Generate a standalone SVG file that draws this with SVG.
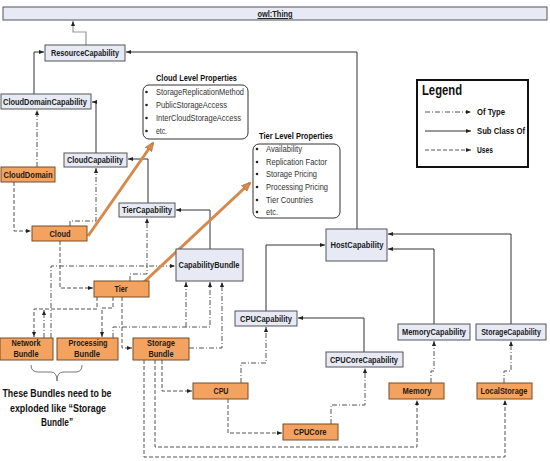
<svg xmlns="http://www.w3.org/2000/svg" width="550" height="461" viewBox="0 0 550 461">
<style>
.cap rect{fill:#e7eaf5;stroke:#555;stroke-width:1}
.ind rect{fill:#f3a35f;stroke:#7a4b22;stroke-width:1}
.lbl{font-family:"Liberation Sans Narrow","Liberation Sans",Arial,sans-serif;font-weight:bold;font-size:9.5px;fill:#1a1a1a;text-anchor:middle}
.prop{font-family:"Liberation Sans Narrow","Liberation Sans",Arial,sans-serif;font-size:9px;fill:#333}
.ptitle{font-family:"Liberation Sans Narrow","Liberation Sans",Arial,sans-serif;font-size:9.5px;font-weight:bold;fill:#111}
.note{font-family:"Liberation Sans Narrow","Liberation Sans",Arial,sans-serif;font-size:10.5px;font-weight:bold;fill:#111;text-anchor:middle}
.box{fill:#fff;stroke:#333;stroke-width:1}
.sub{fill:none;stroke:#333;stroke-width:1;marker-end:url(#ah)}
.typ{fill:none;stroke:#555;stroke-width:1;stroke-dasharray:5 2 1 2;marker-end:url(#ah)}
.use{fill:none;stroke:#555;stroke-width:1;stroke-dasharray:4 2;marker-end:url(#ah)}
.orn{fill:none;stroke:#d8884a;stroke-width:3;marker-end:url(#oah)}
</style>
<defs>
<marker id="ah" markerUnits="userSpaceOnUse" markerWidth="6" markerHeight="5" refX="5" refY="2" orient="auto"><path d="M0,0 L5,2 L0,4 z" fill="#222"/></marker>
<marker id="oah" markerUnits="userSpaceOnUse" markerWidth="10" markerHeight="8" refX="8" refY="4" orient="auto"><path d="M0,0 L9,4 L0,8 z" fill="#d8884a" stroke="#9a5c2c" stroke-width="0.5"/></marker>
</defs>

<g id="connectors">
<path d="M86,45 V32 H73 V21" fill="none" stroke="#999" stroke-width="1.2" marker-end="url(#ah)"/>
<path class="sub" d="M34,94 V52 H44"/>
<path class="sub" d="M357,229 V52 H126"/>
<path class="sub" d="M96,153 V102 H92"/>
<path class="sub" d="M148,203 V159 H128"/>
<path class="sub" d="M210,249 V210 H176"/>
<path class="sub" d="M266,311 V245 H325"/>
<path class="sub" d="M434,324 V249 H388"/>
<path class="sub" d="M511,324 V234 H388"/>
<path class="sub" d="M364,352 V318 H298"/>

<path class="typ" d="M37,167 V110"/>
<path class="typ" d="M70,226 V221 H96 V168"/>
<path class="typ" d="M130,281 V274 H147 V218"/>
<path class="typ" d="M51,338 V266 H175"/>
<path class="typ" d="M44,338 V310" marker-end="none"/>
<path class="typ" d="M113,338 V327 H210 V282"/>
<path class="typ" d="M186,327 V282"/>
<path class="typ" d="M189,348 H222 V282"/>
<path class="typ" d="M241,383 V363 H266 V327"/>
<path class="typ" d="M331,424 V405 H365 V368"/>
<path class="typ" d="M431,383 V371 H434 V341"/>
<path class="typ" d="M504,383 V371 H511 V341"/>

<path class="use" d="M14,182 V231 H31"/>
<path class="use" d="M60,241 V288 H93"/>
<path class="use" d="M97,297 V309 H34 V337"/>
<path class="use" d="M113,297 V308 H102 V337"/>
<path class="use" d="M122,297 V348 H132"/>
<path class="use" d="M162,360 V391 H192"/>
<path class="use" d="M228,399 V433 H282"/>
<path class="use" d="M155,360 V447 H417 V400"/>
<path class="use" d="M144,360 V457 H505 V400"/>

<path class="orn" d="M88,236 L153,143"/>
<path class="orn" d="M144,282 L250,183"/>
</g>

<g id="owlThing" class="cap"><rect x="3" y="7" width="544" height="13"/><text class="lbl" x="275" y="17" textLength="35" lengthAdjust="spacingAndGlyphs" text-decoration="underline">owl:Thing</text></g>
<g id="ResourceCapability" class="cap"><rect x="45" y="45" width="80" height="16"/><text class="lbl" x="85" y="56" textLength="68" lengthAdjust="spacingAndGlyphs">ResourceCapability</text></g>
<g id="CloudDomainCapability" class="cap"><rect x="1" y="94" width="90" height="15"/><text class="lbl" x="45" y="105" textLength="84" lengthAdjust="spacingAndGlyphs">CloudDomainCapability</text></g>
<g id="CloudCapability" class="cap"><rect x="64" y="153" width="63" height="14"/><text class="lbl" x="95" y="163" textLength="56" lengthAdjust="spacingAndGlyphs">CloudCapability</text></g>
<g id="TierCapability" class="cap"><rect x="119" y="203" width="56" height="14"/><text class="lbl" x="147" y="213" textLength="50" lengthAdjust="spacingAndGlyphs">TierCapability</text></g>
<g id="CapabilityBundle" class="cap"><rect x="176" y="249" width="67" height="32"/><text class="lbl" x="209" y="268" textLength="61" lengthAdjust="spacingAndGlyphs">CapabilityBundle</text></g>
<g id="HostCapability" class="cap"><rect x="326" y="229" width="61" height="32"/><text class="lbl" x="357" y="248" textLength="53" lengthAdjust="spacingAndGlyphs">HostCapability</text></g>
<g id="CPUCapability" class="cap"><rect x="235" y="311" width="62" height="15"/><text class="lbl" x="266" y="322" textLength="52" lengthAdjust="spacingAndGlyphs">CPUCapability</text></g>
<g id="MemoryCapability" class="cap"><rect x="398" y="324" width="72" height="16"/><text class="lbl" x="434" y="335" textLength="64" lengthAdjust="spacingAndGlyphs">MemoryCapability</text></g>
<g id="StorageCapability" class="cap"><rect x="476" y="324" width="70" height="16"/><text class="lbl" transform="translate(511,335) scale(0.74,1)" x="0" y="0">StorageCapability</text></g>
<g id="CPUCoreCapability" class="cap"><rect x="326" y="352" width="77" height="15"/><text class="lbl" x="364" y="363" textLength="68" lengthAdjust="spacingAndGlyphs">CPUCoreCapability</text></g>

<g id="CloudDomain" class="ind"><rect x="1" y="167" width="54" height="15"/><text class="lbl" x="28" y="178" textLength="49" lengthAdjust="spacingAndGlyphs">CloudDomain</text></g>
<g id="Cloud" class="ind"><rect x="32" y="226" width="55" height="15"/><text class="lbl" x="60" y="237" textLength="21" lengthAdjust="spacingAndGlyphs">Cloud</text></g>
<g id="Tier" class="ind"><rect x="94" y="281" width="55" height="16"/><text class="lbl" x="121" y="292" textLength="13" lengthAdjust="spacingAndGlyphs">Tier</text></g>
<g id="NetworkBundle" class="ind"><rect x="0" y="338" width="53" height="22"/><text class="lbl" x="26" y="346" textLength="29" lengthAdjust="spacingAndGlyphs">Network</text><text class="lbl" x="26" y="357" textLength="25" lengthAdjust="spacingAndGlyphs">Bundle</text></g>
<g id="ProcessingBundle" class="ind"><rect x="57" y="338" width="61" height="22"/><text class="lbl" x="88" y="346" textLength="39" lengthAdjust="spacingAndGlyphs">Processing</text><text class="lbl" x="87" y="357" textLength="26" lengthAdjust="spacingAndGlyphs">Bundle</text></g>
<g id="StorageBundle" class="ind"><rect x="133" y="338" width="56" height="22"/><text class="lbl" x="161" y="346" textLength="28" lengthAdjust="spacingAndGlyphs">Storage</text><text class="lbl" x="161" y="357" textLength="25" lengthAdjust="spacingAndGlyphs">Bundle</text></g>
<g id="CPU" class="ind"><rect x="193" y="383" width="55" height="16"/><text class="lbl" x="221" y="394" textLength="15" lengthAdjust="spacingAndGlyphs">CPU</text></g>
<g id="CPUCore" class="ind"><rect x="283" y="424" width="55" height="16"/><text class="lbl" x="310" y="435" textLength="33" lengthAdjust="spacingAndGlyphs">CPUCore</text></g>
<g id="Memory" class="ind"><rect x="389" y="383" width="55" height="16"/><text class="lbl" x="417" y="394" textLength="29" lengthAdjust="spacingAndGlyphs">Memory</text></g>
<g id="LocalStorage" class="ind"><rect x="477" y="383" width="55" height="16"/><text class="lbl" x="504" y="394" textLength="47" lengthAdjust="spacingAndGlyphs">LocalStorage</text></g>

<g id="CloudLevelProperties">
<text class="ptitle" x="156" y="81" textLength="81" lengthAdjust="spacingAndGlyphs">Cloud Level Properties</text>
<rect class="box" x="143" y="85" width="105" height="54" rx="6"/>
<circle cx="146.5" cy="92" r="1.3" fill="#222"/><text class="prop" x="156" y="95" textLength="88" lengthAdjust="spacingAndGlyphs">StorageReplicationMethod</text>
<circle cx="146.5" cy="105" r="1.3" fill="#222"/><text class="prop" x="156" y="108" textLength="71" lengthAdjust="spacingAndGlyphs">PublicStorageAccess</text>
<circle cx="146.5" cy="118" r="1.3" fill="#222"/><text class="prop" x="156" y="121" textLength="85" lengthAdjust="spacingAndGlyphs">InterCloudStorageAccess</text>
<circle cx="146.5" cy="131" r="1.3" fill="#222"/><text class="prop" x="156" y="134" textLength="11" lengthAdjust="spacingAndGlyphs">etc.</text>
</g>

<g id="TierLevelProperties">
<text class="ptitle" x="259" y="139" textLength="74" lengthAdjust="spacingAndGlyphs">Tier Level Properties</text>
<rect class="box" x="253" y="144" width="87" height="74" rx="6"/>
<circle cx="257" cy="149" r="1.3" fill="#222"/><text class="prop" x="266" y="152" textLength="36" lengthAdjust="spacingAndGlyphs">Availability</text>
<circle cx="257" cy="162" r="1.3" fill="#222"/><text class="prop" x="266" y="165" textLength="61" lengthAdjust="spacingAndGlyphs">Replication Factor</text>
<circle cx="257" cy="174" r="1.3" fill="#222"/><text class="prop" x="266" y="177" textLength="51" lengthAdjust="spacingAndGlyphs">Storage Pricing</text>
<circle cx="257" cy="187" r="1.3" fill="#222"/><text class="prop" x="266" y="190" textLength="62" lengthAdjust="spacingAndGlyphs">Processing Pricing</text>
<circle cx="257" cy="200" r="1.3" fill="#222"/><text class="prop" x="266" y="203" textLength="47" lengthAdjust="spacingAndGlyphs">Tier Countries</text>
<circle cx="257" cy="212" r="1.3" fill="#222"/><text class="prop" x="266" y="215" textLength="12" lengthAdjust="spacingAndGlyphs">etc.</text>
</g>

<g id="Legend">
<rect x="417" y="80" width="111" height="87" fill="#fff" stroke="#111" stroke-width="2"/>
<text x="422" y="95" font-family="Liberation Sans Narrow, Liberation Sans, Arial, sans-serif" font-size="14" font-weight="bold" fill="#111" textLength="40" lengthAdjust="spacingAndGlyphs">Legend</text>
<path class="typ" d="M425,112 H471"/>
<text class="ptitle" x="477" y="115" textLength="28" lengthAdjust="spacingAndGlyphs">Of Type</text>
<path class="sub" d="M425,131 H471"/>
<text class="ptitle" x="477" y="134" textLength="48" lengthAdjust="spacingAndGlyphs">Sub Class Of</text>
<path class="use" d="M425,150 H471"/>
<text class="ptitle" x="477" y="153" textLength="16" lengthAdjust="spacingAndGlyphs">Uses</text>
</g>

<g id="BundleNote">
<path d="M31,365 Q31,372 38,372 H51 Q57,372 57,381 Q57,372 63,372 H76 Q82,372 82,365" fill="none" stroke="#777" stroke-width="1"/>
<text class="note" x="57" y="397" textLength="109" lengthAdjust="spacingAndGlyphs">These Bundles need to be</text>
<text class="note" x="58" y="412" textLength="96" lengthAdjust="spacingAndGlyphs">exploded like “Storage</text>
<text class="note" x="57" y="426" textLength="32" lengthAdjust="spacingAndGlyphs">Bundle”</text>
</g>
</svg>
